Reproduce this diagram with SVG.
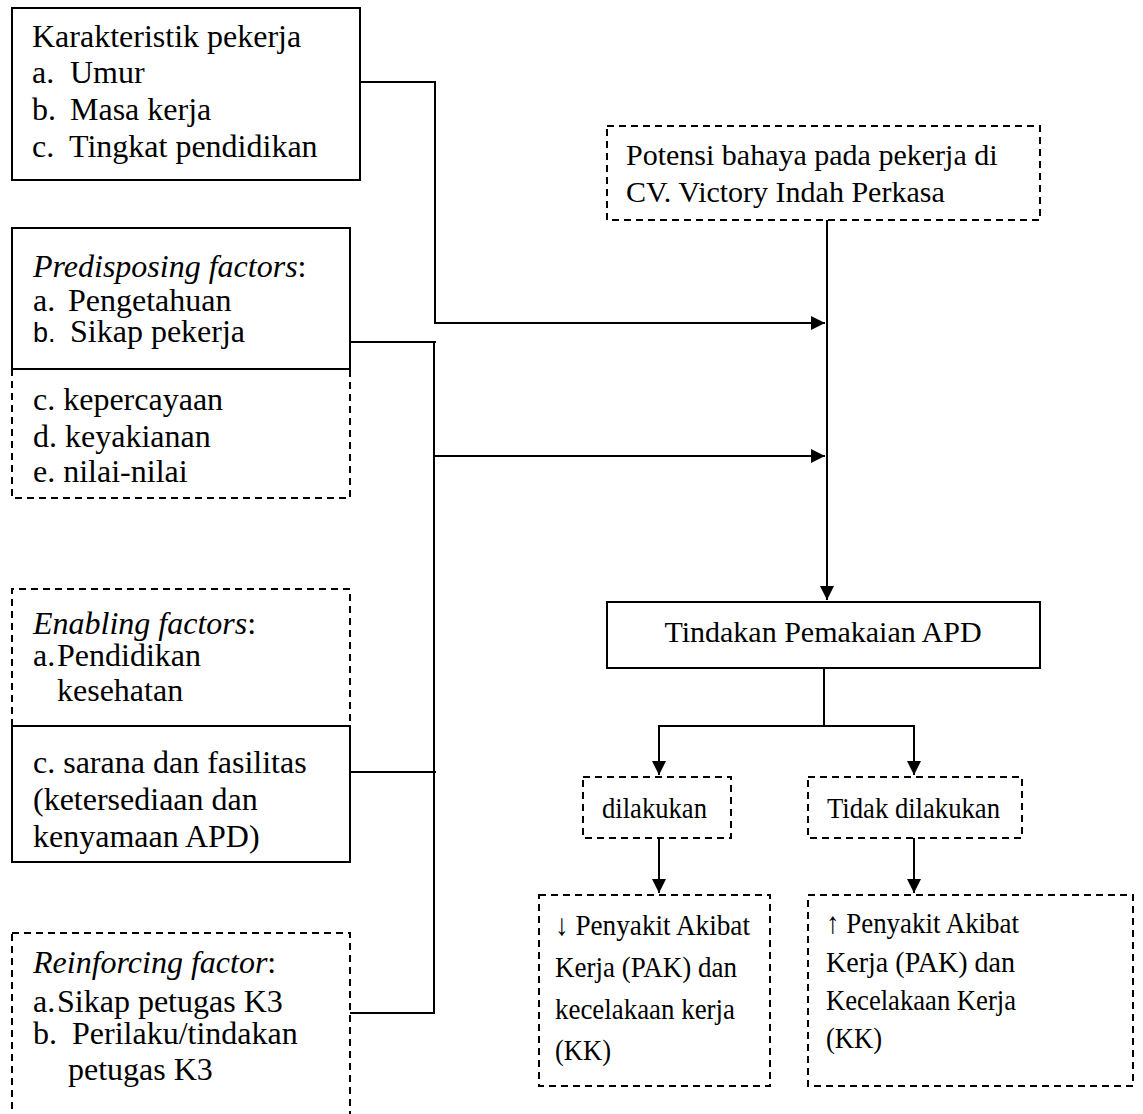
<svg xmlns="http://www.w3.org/2000/svg" width="1143" height="1114" viewBox="0 0 1143 1114">
<style>
  .solid{fill:#fff;stroke:#000;stroke-width:2}
  .dash{fill:none;stroke:#000;stroke-width:2;stroke-dasharray:7 5}
  .wline{fill:none;stroke:#000;stroke-width:2}
  text{font-family:"Liberation Serif","Times New Roman",serif;fill:#000}
  .l{font-size:32px}
  .r{font-size:30px}
  .i{font-style:italic}
  .sans{font-family:"Liberation Sans",Arial,sans-serif;font-size:27px}
</style>
<defs>
  <marker id="arr" markerUnits="userSpaceOnUse" markerWidth="16" markerHeight="16" viewBox="0 0 16 16" refX="15" refY="8" orient="auto">
    <path d="M1,1 L15,8 L1,15 Z" fill="#000"/>
  </marker>
</defs>
<rect width="1143" height="1114" fill="#fff"/>

<g id="connectors">
  <path class="wline" d="M360,82 H435 V323 H825" marker-end="url(#arr)"/>
  <path class="wline" d="M350,342 H436"/>
  <path class="wline" d="M434,342 V1013 H350"/>
  <path class="wline" d="M434,456 H825" marker-end="url(#arr)"/>
  <path class="wline" d="M350,772 H436"/>
  <path class="wline" d="M827,220 V600" marker-end="url(#arr)"/>
  <path class="wline" d="M824,668 V726"/>
  <path class="wline" d="M659,726 H914"/>
  <path class="wline" d="M659,725 V775" marker-end="url(#arr)"/>
  <path class="wline" d="M914,725 V775" marker-end="url(#arr)"/>
  <path class="wline" d="M659,838 V893" marker-end="url(#arr)"/>
  <path class="wline" d="M914,838 V893" marker-end="url(#arr)"/>
</g>

<g id="karakteristik">
  <rect class="solid" x="12" y="8" width="348" height="172"/>
  <text class="l" x="32" y="47">Karakteristik pekerja</text>
  <text class="l" y="83"><tspan x="32">a.</tspan><tspan x="70">Umur</tspan></text>
  <text class="l" y="120"><tspan x="32">b.</tspan><tspan x="70">Masa kerja</tspan></text>
  <text class="l" y="157"><tspan x="32">c.</tspan><tspan x="69">Tingkat pendidikan</tspan></text>
</g>

<g id="predisposing">
  <path class="dash" d="M12,369 V498 H350 V369"/>
  <rect class="solid" x="12" y="228" width="338" height="141"/>
  <text class="l" x="33" y="277"><tspan class="i">Predisposing factors</tspan>:</text>
  <text class="l" y="311"><tspan x="33">a.</tspan><tspan x="68">Pengetahuan</tspan></text>
  <text class="l" y="342"><tspan x="33" class="sans">b.</tspan><tspan x="70">Sikap pekerja</tspan></text>
  <text class="l" x="33" y="410">c. kepercayaan</text>
  <text class="l" x="33" y="447">d. keyakianan</text>
  <text class="l" x="33" y="482">e. nilai-nilai</text>
</g>

<g id="enabling">
  <path class="dash" d="M12,726 V589 H350 V726"/>
  <text class="l" x="33" y="634"><tspan class="i">Enabling factors</tspan>:</text>
  <text class="l" y="666"><tspan x="33">a.</tspan><tspan x="57">Pendidikan</tspan></text>
  <text class="l" x="57" y="701">kesehatan</text>
  <rect class="solid" x="12" y="726" width="338" height="136"/>
  <text class="l" x="33" y="773">c. sarana dan fasilitas</text>
  <text class="l" x="33" y="810">(ketersediaan dan</text>
  <text class="l" x="33" y="847">kenyamaan APD)</text>
</g>

<g id="reinforcing">
  <rect class="dash" x="12" y="933" width="338" height="200"/>
  <text class="l" x="33" y="973"><tspan class="i">Reinforcing factor</tspan>:</text>
  <text class="l" y="1012"><tspan x="33">a.</tspan><tspan x="57">Sikap petugas K3</tspan></text>
  <text class="l" y="1044"><tspan x="33">b.</tspan><tspan x="72">Perilaku/tindakan</tspan></text>
  <text class="l" x="68" y="1080">petugas K3</text>
</g>

<g id="potensi">
  <rect class="dash" x="607" y="126" width="433" height="94"/>
  <text class="r" x="626" y="165">Potensi bahaya pada pekerja di</text>
  <text class="r" x="626" y="202">CV. Victory Indah Perkasa</text>
</g>

<g id="tindakan">
  <rect class="solid" x="607" y="602" width="433" height="66"/>
  <text class="r" x="823" y="642" text-anchor="middle">Tindakan Pemakaian APD</text>
</g>

<g id="dilakukan">
  <rect class="dash" x="583" y="777" width="148" height="61"/>
  <text class="r" x="602" y="818" textLength="105" lengthAdjust="spacingAndGlyphs">dilakukan</text>
</g>

<g id="tidak-dilakukan">
  <rect class="dash" x="808" y="777" width="214" height="61"/>
  <text class="r" x="827" y="818" textLength="173" lengthAdjust="spacingAndGlyphs">Tidak dilakukan</text>
</g>

<g id="pak-turun">
  <rect class="dash" x="539" y="895" width="231" height="191"/>
  <text class="r" x="555" y="935" textLength="195" lengthAdjust="spacingAndGlyphs">↓ Penyakit Akibat</text>
  <text class="r" x="555" y="977" textLength="182" lengthAdjust="spacingAndGlyphs">Kerja (PAK) dan</text>
  <text class="r" x="555" y="1019" textLength="180" lengthAdjust="spacingAndGlyphs">kecelakaan kerja</text>
  <text class="r" x="555" y="1060" textLength="56" lengthAdjust="spacingAndGlyphs">(KK)</text>
</g>

<g id="pak-naik">
  <rect class="dash" x="808" y="895" width="325" height="191"/>
  <text class="r" x="826" y="933" textLength="193" lengthAdjust="spacingAndGlyphs">↑ Penyakit Akibat</text>
  <text class="r" x="826" y="972" textLength="189" lengthAdjust="spacingAndGlyphs">Kerja (PAK)  dan</text>
  <text class="r" x="826" y="1010" textLength="190" lengthAdjust="spacingAndGlyphs">Kecelakaan Kerja</text>
  <text class="r" x="826" y="1048" textLength="56" lengthAdjust="spacingAndGlyphs">(KK)</text>
</g>
</svg>
